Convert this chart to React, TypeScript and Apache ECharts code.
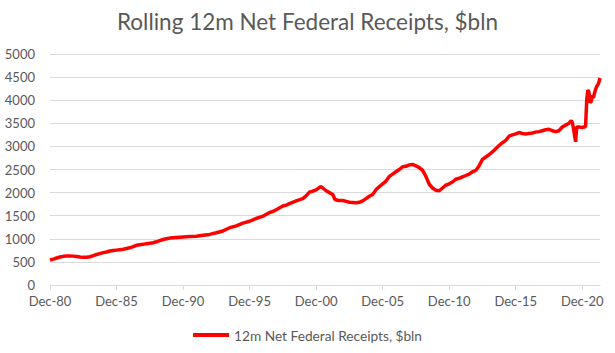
import React, { useEffect, useRef } from 'react';
import * as echarts from 'echarts';

const title = 'Rolling 12m Net Federal Receipts, $bln';
const seriesName = '12m Net Federal Receipts, $bln';

const months: string[] = [
  '1980-12', '1981-03', '1981-06', '1981-09', '1981-12', '1982-03', '1982-06', '1982-09', '1982-12',
  '1983-03', '1983-06', '1983-09', '1983-12', '1984-03', '1984-06', '1984-09', '1984-12',
  '1985-03', '1985-06', '1985-09', '1985-12', '1986-03', '1986-06', '1986-09', '1986-12',
  '1987-03', '1987-06', '1987-09', '1987-12', '1988-03', '1988-06', '1988-09', '1988-12',
  '1989-03', '1989-06', '1989-09', '1989-12', '1990-06', '1990-12', '1991-06', '1991-12',
  '1992-06', '1992-12', '1993-06', '1993-12', '1994-06', '1994-12', '1995-06', '1995-12',
  '1996-06', '1996-12', '1997-06', '1997-09', '1997-12', '1998-06', '1998-09', '1998-12',
  '1999-06', '1999-12', '2000-03', '2000-06', '2000-09', '2000-12', '2001-04', '2001-06',
  '2001-09', '2001-12', '2002-03', '2002-05', '2002-08', '2002-12', '2003-03', '2003-06',
  '2003-09', '2003-12', '2004-03', '2004-06', '2004-09', '2004-12', '2005-03', '2005-06',
  '2005-09', '2005-12', '2006-03', '2006-06', '2006-09', '2006-12', '2007-03', '2007-06',
  '2007-09', '2007-12', '2008-03', '2008-06', '2008-09', '2008-12', '2009-03', '2009-06',
  '2009-09', '2009-12', '2010-03', '2010-06', '2010-09', '2010-12', '2011-03', '2011-06',
  '2011-09', '2011-12', '2012-03', '2012-06', '2012-09', '2012-12', '2013-03', '2013-06',
  '2013-09', '2013-12', '2014-03', '2014-06', '2014-09', '2014-12', '2015-03', '2015-06',
  '2015-09', '2015-12', '2016-03', '2016-06', '2016-09', '2016-12', '2017-03', '2017-06',
  '2017-09', '2017-12', '2018-03', '2018-06', '2018-09', '2018-12', '2019-03', '2019-06',
  '2019-09', '2019-12', '2020-02', '2020-03', '2020-04', '2020-05', '2020-06', '2020-07',
  '2020-09', '2020-12', '2021-03', '2021-04', '2021-05', '2021-06', '2021-07', '2021-08',
  '2021-09', '2021-10', '2021-11', '2021-12', '2022-01', '2022-02', '2022-03', '2022-04',
];

const values: number[] = [
  540, 560, 585, 605, 620, 630, 628, 625, 615,
  605, 598, 600, 612, 635, 660, 680, 700,
  715, 735, 745, 755, 765, 775, 790, 805,
  830, 860, 870, 880, 895, 905, 915, 935,
  960, 985, 1000, 1015, 1030, 1040, 1050, 1055,
  1075, 1095, 1130, 1170, 1240, 1280, 1340, 1380,
  1440, 1490, 1570, 1590, 1630, 1710, 1730, 1760,
  1820, 1870, 1930, 2010, 2030, 2060, 2130, 2100,
  2040, 2000, 1960, 1850, 1830, 1830, 1810, 1790,
  1785, 1780, 1790, 1820, 1870, 1920, 1960, 2060,
  2130, 2190, 2250, 2350, 2400, 2450, 2500, 2560,
  2570, 2600, 2610, 2580, 2540, 2480, 2350, 2180,
  2100, 2050, 2040, 2100, 2160, 2190, 2230, 2290,
  2310, 2340, 2370, 2400, 2450, 2480, 2580, 2720,
  2770, 2820, 2880, 2950, 3020, 3080, 3130, 3220,
  3250, 3270, 3300, 3280, 3270, 3280, 3290, 3310,
  3320, 3340, 3360, 3370, 3340, 3320, 3340, 3420,
  3460, 3500, 3560, 3520, 3400, 3250, 3100, 3420,
  3420, 3410, 3430, 4000, 4220, 4180, 3950, 3970,
  4100, 4050, 4150, 4230, 4300, 4330, 4390, 4480,
];

const xTickMonths: number[] = [0, 60, 120, 180, 240, 300, 360, 420, 480];
const xTickLabels: string[] = ['Dec-80', 'Dec-85', 'Dec-90', 'Dec-95', 'Dec-00', 'Dec-05', 'Dec-10', 'Dec-15', 'Dec-20'];

const monthIndex = (s: string) => {
  const [y, m] = s.split('-').map(Number);
  return (y - 1980) * 12 + (m - 12);
};

const FONT = 'Lato, "Noto Sans", sans-serif';
const GREY = '#595959';

export default function App() {
  const ref = useRef<HTMLDivElement>(null);
  useEffect(() => {
    if (!ref.current) return;
    const chart = echarts.init(ref.current, undefined, { renderer: 'svg' });
    const data = months.map((m, i) => [monthIndex(m), values[i]]);
    chart.setOption({
      animation: false,
      backgroundColor: '#ffffff',
      title: {
        text: title,
        left: 'center',
        top: 5,
        textStyle: { color: GREY, fontSize: 22.5, fontWeight: 'normal', fontFamily: FONT },
      },
      legend: {
        bottom: 6,
        left: 'center',
        icon: 'rect',
        itemWidth: 36,
        itemHeight: 4,
        itemGap: 10,
        textStyle: { color: GREY, fontSize: 13.7, fontFamily: FONT },
        data: [seriesName],
      },
      grid: { left: 50, right: 15, top: 54, bottom: 68 },
      xAxis: {
        type: 'value',
        min: 0,
        max: 496,
        interval: 60,
        axisLine: { lineStyle: { color: '#d9d9d9', width: 1 } },
        axisTick: { show: true, length: 5, lineStyle: { color: '#d9d9d9' }, customValues: xTickMonths },
        splitLine: { show: false },
        axisLabel: {
          color: GREY,
          fontSize: 13,
          fontFamily: FONT,
          margin: 9,
          customValues: xTickMonths,
          formatter: (v: number) => {
            const i = xTickMonths.indexOf(Math.round(v));
            return i >= 0 ? xTickLabels[i] : '';
          },
        },
      },
      yAxis: {
        type: 'value',
        min: 0,
        max: 5000,
        interval: 500,
        axisLine: { show: false },
        axisTick: { show: false },
        splitLine: { lineStyle: { color: '#d9d9d9', width: 1 } },
        axisLabel: {
          color: GREY,
          fontSize: 13,
          fontFamily: FONT,
          margin: 15,
          formatter: (v: number) => String(v),
        },
      },
      series: [
        {
          name: seriesName,
          type: 'line',
          data,
          showSymbol: false,
          symbol: 'none',
          lineStyle: { color: '#ff0000', width: 3.5 },
          itemStyle: { color: '#ff0000' },
        },
      ],
    });
    return () => chart.dispose();
  }, []);
  return <div ref={ref} style={{ width: 615, height: 353, position: 'absolute', left: 0, top: 0 }} />;
}
